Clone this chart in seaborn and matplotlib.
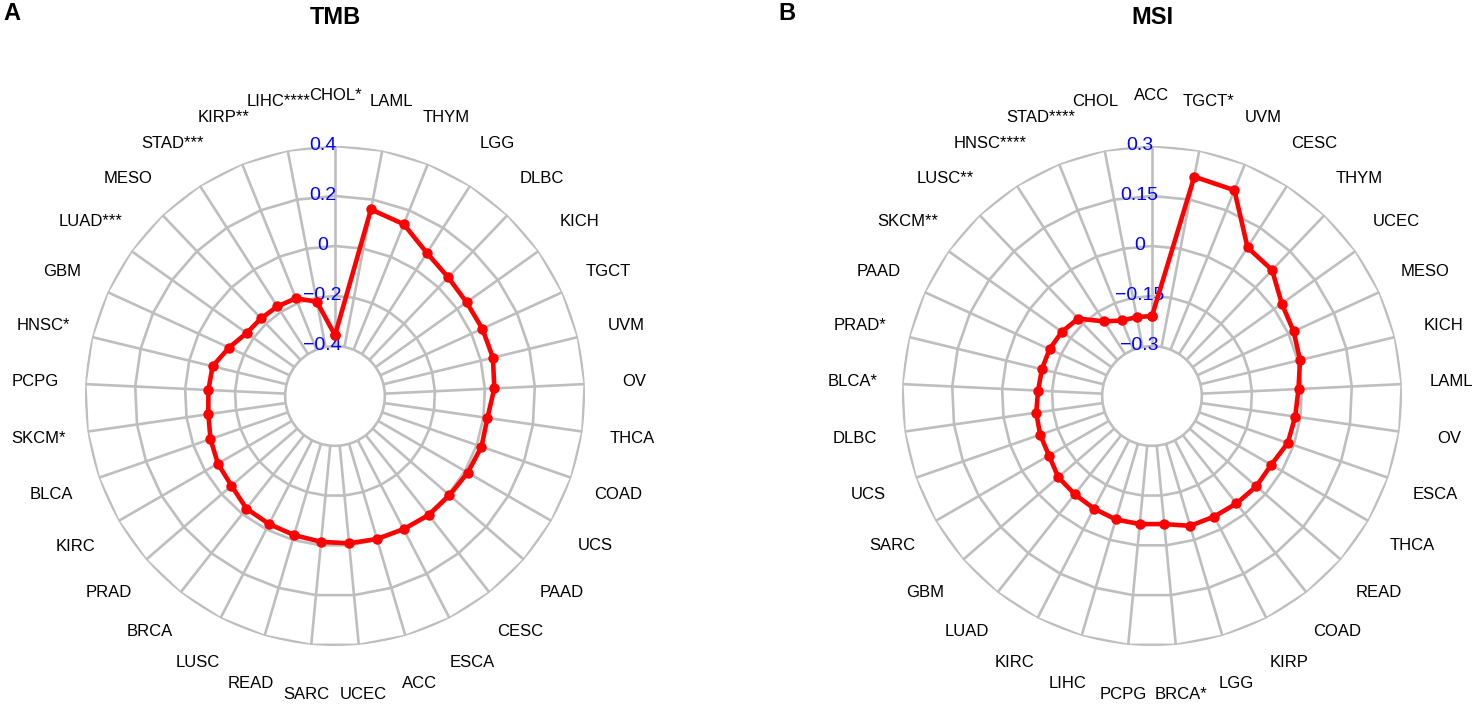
import numpy as np
import pandas as pd
import matplotlib
matplotlib.use("Agg")
import matplotlib.pyplot as plt
import seaborn as sns
from matplotlib.transforms import offset_copy

sns.set_style("white")
plt.rcParams["font.family"] = ["Liberation Sans", "DejaVu Sans"]
plt.rcParams["text.color"] = "black"

# ---------------- data ----------------
tmb_labels = ["CHOL*", "LAML", "THYM", "LGG", "DLBC", "KICH", "TGCT", "UVM", "OV",
              "THCA", "COAD", "UCS", "PAAD", "CESC", "ESCA", "ACC", "UCEC", "SARC",
              "READ", "LUSC", "BRCA", "PRAD", "KIRC", "BLCA", "SKCM*", "PCPG",
              "HNSC*", "GBM", "LUAD***", "MESO", "STAD***", "KIRP**", "LIHC****"]
tmb_values = [-0.357, 0.160, 0.140, 0.080, 0.056, 0.046, 0.048, 0.050, 0.038,
              0.016, 0.020, 0.013, 0.006, 0.006, -0.001, -0.004, -0.008, -0.014,
              -0.020, -0.024, -0.027, -0.052, -0.059, -0.073, -0.088, -0.093,
              -0.096, -0.134, -0.166, -0.171, -0.174, -0.179, -0.216]
tmb_levels = [-0.4, -0.2, 0.0, 0.2, 0.4]
tmb_level_labels = ["\u22120.4", "\u22120.2", "0", "0.2", "0.4"]

msi_labels = ["ACC", "TGCT*", "UVM", "CESC", "THYM", "UCEC", "MESO", "KICH", "LAML",
              "OV", "ESCA", "THCA", "READ", "COAD", "KIRP", "LGG", "BRCA*", "PCPG",
              "LIHC", "KIRC", "LUAD", "GBM", "SARC", "UCS", "DLBC", "BLCA*", "PRAD*",
              "PAAD", "SKCM**", "LUSC**", "HNSC****", "STAD****", "CHOL"]
msi_values = [-0.210, 0.220, 0.215, 0.080, 0.072, 0.028, 0.017, 0.007, -0.010,
              -0.016, -0.019, -0.037, -0.036, -0.040, -0.043, -0.044, -0.064, -0.064,
              -0.064, -0.070, -0.075, -0.078, -0.093, -0.095, -0.099, -0.108, -0.110,
              -0.112, -0.118, -0.129, -0.184, -0.206, -0.209]
msi_levels = [-0.3, -0.15, 0.0, 0.15, 0.3]
msi_level_labels = ["\u22120.3", "\u22120.15", "0", "0.15", "0.3"]

GREY = "#BEBEBE"

W, H = 1473, 704
fig = plt.figure(figsize=(W / 100, H / 100), dpi=100)


def radar(cx, cy, R, labels, values, levels, level_labels, title):
    ax = fig.add_axes([(cx - R) / W, (H - cy - R) / H, 2 * R / W, 2 * R / H],
                      projection="polar")
    n = len(labels)
    step = levels[1] - levels[0]
    rmin = levels[0] - step  # center of the chart
    rmax = levels[-1]
    ax.set_theta_zero_location("N")
    ax.set_theta_direction(-1)
    ax.set_ylim(rmin, rmax)
    ax.axis("off")

    theta = np.arange(n) * 2 * np.pi / n
    tc = np.append(theta, 2 * np.pi)
    for lv in levels:
        ax.plot(tc, [lv] * (n + 1), color=GREY, lw=1.9, zorder=1,
                solid_joinstyle="miter")
    for t in theta:
        ax.plot([t, t], [levels[0], levels[-1]], color=GREY, lw=1.9, zorder=1)

    df = pd.DataFrame({"theta": tc, "value": list(values) + [values[0]]})
    sns.lineplot(data=df, x="theta", y="value", sort=False, estimator=None,
                 color="#FF0000", lw=3.3, marker="o", markersize=7.5,
                 markeredgewidth=0, ax=ax, zorder=3, legend=False)
    ax.set_xlabel("")
    ax.set_ylabel("")
    ax.axis("off")

    rl = rmin + 1.2 * (rmax - rmin)
    for t, lab in zip(theta, labels):
        ax.text(t, rl, lab, ha="center", va="center", fontsize=12,
                color="black", clip_on=False)

    trans = offset_copy(ax.transData, fig=fig, x=-12.5, y=0, units="dots")
    for lv, s in zip(levels, level_labels):
        ax.text(0, lv, s, transform=trans, ha="center", va="center",
                fontsize=14, color="#0000FF", zorder=2, clip_on=False)

    fig.text(cx / W, 1 - 18 / H, title, ha="center", va="center",
             fontsize=17, fontweight="bold", color="black")
    return ax


radar(335, 396, 250, tmb_labels, tmb_values, tmb_levels, tmb_level_labels, "TMB")
radar(1152, 396, 250, msi_labels, msi_values, msi_levels, msi_level_labels, "MSI")

fig.text(12 / W, 1 - 13 / H, "A", ha="center", va="center", fontsize=17,
         fontweight="bold", color="black")
fig.text(787 / W, 1 - 13 / H, "B", ha="center", va="center", fontsize=17,
         fontweight="bold", color="black")

fig.savefig("out.png", dpi=100, facecolor="white")
